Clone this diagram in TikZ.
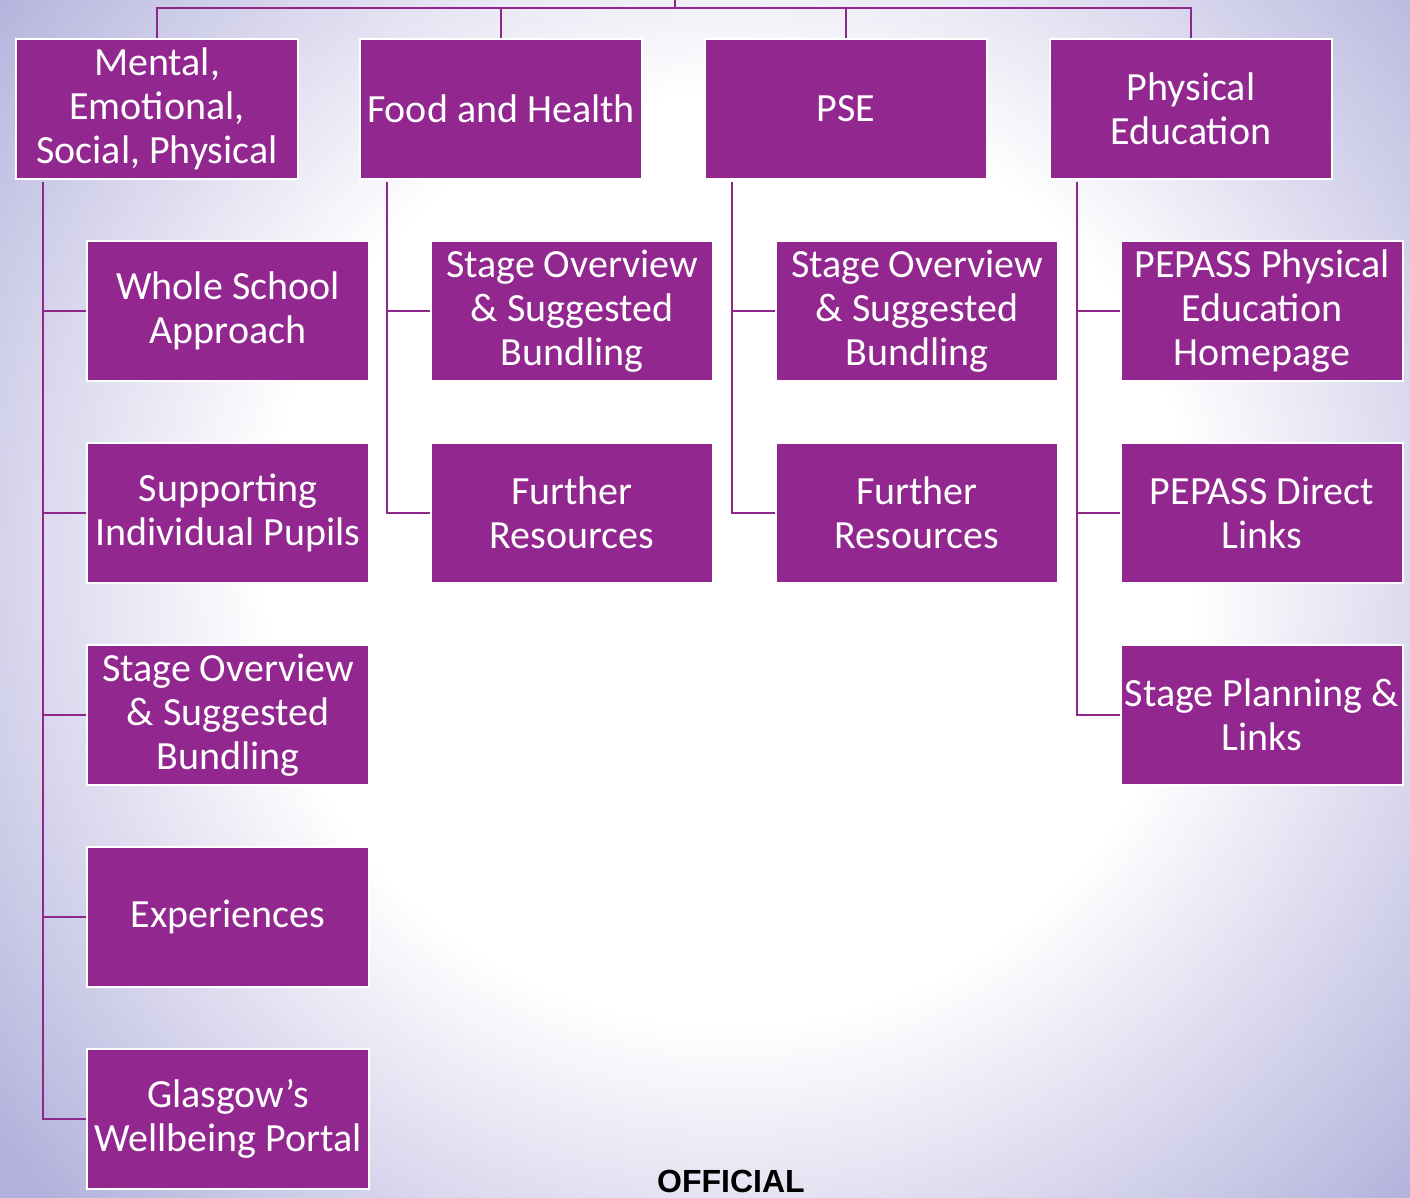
\documentclass[tikz,border=0pt]{standalone}
\usepackage{fontspec}
\usetikzlibrary{positioning,calc}
\newfontfamily\carlito{Carlito}
\newfontfamily\officialfont{Liberation Sans}
\definecolor{hwbPurple}{RGB}{146,39,143}
\definecolor{hwbLine}{RGB}{140,40,138}
\definecolor{hwbLav}{RGB}{180,178,220}
\pgfdeclareradialshading{hwbback}{\pgfpoint{0bp}{0bp}}{%
  color(0bp)=(white); color(12.5bp)=(white); color(25bp)=(hwbLav);
  color(50bp)=(hwbLav)}

\begin{document}
\begin{tikzpicture}[x=1pt, y=-1pt,
    box/.style={rectangle, fill=hwbPurple, draw=white, line width=2pt,
                minimum width=282pt, minimum height=140pt, inner sep=0pt,
                text=white, align=center,
                font=\carlito\fontsize{40}{44}\selectfont},
    link/.style={draw=hwbLine, line width=2.6pt}
  ]
  \useasboundingbox (0,0) rectangle (1410,1197);
  \begin{scope}
    \clip (0,0) rectangle (1410,1197);
    \shade[shading=hwbback] (-200,-370) rectangle (1660,1490);
  \end{scope}

  % top row
  \node[box] (mesp) at ( 157,109) {Mental,\\Emotional,\\Social, Physical};
  \node[box] (food) at ( 501,109) {Food and Health};
  \node[box] (pse)  at ( 846,109) {PSE};
  \node[box] (pe)   at (1191,109) {Physical\\Education};

  % children
  \node[box] (mesp1) at (228, 311) {Whole School\\Approach};
  \node[box] (mesp2) at (228, 513) {Supporting\\Individual Pupils};
  \node[box] (mesp3) at (228, 715) {Stage Overview\\\& Suggested\\Bundling};
  \node[box] (mesp4) at (228, 917) {Experiences};
  \node[box] (mesp5) at (228,1119) {Glasgow’s\\Wellbeing Portal};

  \node[box] (food1) at (572, 311) {Stage Overview\\\& Suggested\\Bundling};
  \node[box] (food2) at (572, 513) {Further\\Resources};

  \node[box] (pse1) at (917, 311) {Stage Overview\\\& Suggested\\Bundling};
  \node[box] (pse2) at (917, 513) {Further\\Resources};

  \node[box] (pe1) at (1262, 311) {PEPASS Physical\\Education\\Homepage};
  \node[box] (pe2) at (1262, 513) {PEPASS Direct\\Links};
  \node[box] (pe3) at (1262, 715) {Stage Planning \&\\Links};

  % connectors
  \coordinate (root) at (675,0);
  \coordinate (bus) at (675,8);
  \draw[link] (root) -- (bus);
  \foreach \n in {mesp,food,pse,pe}
    \draw[link] (bus) -| (\n.north);

  \foreach \p/\c in {mesp/mesp1, mesp/mesp2, mesp/mesp3, mesp/mesp4, mesp/mesp5,
                     food/food1, food/food2, pse/pse1, pse/pse2,
                     pe/pe1, pe/pe2, pe/pe3}
    \draw[link] ($(\p.south west)+(28,2)$) |- (\c.west);

  \node[font=\officialfont\bfseries\fontsize{32}{36}\selectfont, text=black]
    (official) at (731,1181) {OFFICIAL};
\end{tikzpicture}
\end{document}
